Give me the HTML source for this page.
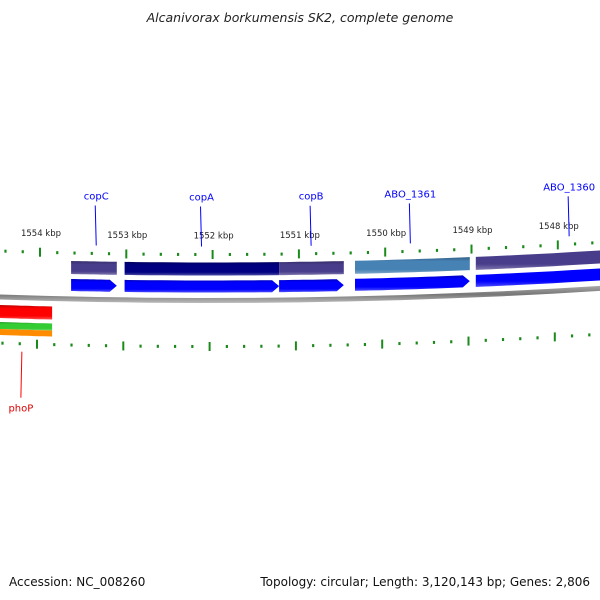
<!DOCTYPE html>
<html><head><meta charset="utf-8"><style>
html,body{margin:0;padding:0;background:#fff;}
svg{display:block;font-family:"DejaVu Sans","Liberation Sans",sans-serif;}
</style></head><body>
<svg id="map" width="600" height="600" viewBox="0 0 600 600">
<defs>
<linearGradient id="gBack" x1="0" y1="0" x2="0" y2="1"><stop offset="0" stop-color="#aaa"/><stop offset="0.5" stop-color="#777"/><stop offset="1" stop-color="#bbb"/></linearGradient>
<linearGradient id="shade" x1="0" y1="0" x2="0" y2="1"><stop offset="0" stop-color="#000" stop-opacity="0.25"/><stop offset="0.25" stop-color="#000" stop-opacity="0"/><stop offset="0.75" stop-color="#fff" stop-opacity="0"/><stop offset="1" stop-color="#fff" stop-opacity="0.3"/></linearGradient>
</defs>
<text x="300" y="22" text-anchor="middle" font-size="12.5" font-style="italic" fill="#222">Alcanivorax borkumensis SK2, complete genome</text>
<g id="layer"></g>
<text x="9" y="586" font-size="12" fill="#111">Accession: NC_008260</text>
<text x="590" y="586" font-size="12" fill="#111" text-anchor="end">Topology: circular; Length: 3,120,143 bp; Genes: 2,806</text>
</svg>
<script>
// data
const majorTicks = [1554, 1553, 1552, 1551, 1550, 1549, 1548];
const tickLabels = ["1554 kbp","1553 kbp","1552 kbp","1551 kbp","1550 kbp","1549 kbp","1548 kbp"];
const geneNames = ["copC","copA","copB","ABO_1361","ABO_1360"];
const geneStarts = [1553.64, 1553.02, 1551.23, 1550.35, 1548.95]; // left edge kbp
const geneEnds   = [1553.11, 1551.23, 1550.48, 1549.02, 1546.80];
const geneColors = ["#483d8b","#000080","#483d8b","#4682b4","#483d8b"];
const labelKbp   = [1553.36, 1552.14, 1550.87, 1549.72, 1547.88];
const revNames = ["phoP"];
const revStarts = [1554.47];
const revEnds = [1553.86];
const revLabelKbp = [1554.21];

// axis functions
const X0 = 40, PX_PER_KBP = 86.3, XC = 210, YTOP = 300.5, R2 = 12600;
function xOf(k){ return X0 + (1554 - k) * PX_PER_KBP; }
function curve(x){ return YTOP - (x - XC) * (x - XC) / R2; }
const svgNS = "http://www.w3.org/2000/svg";
const layer = document.getElementById('layer');
function mk(tag, attrs){ const e = document.createElementNS(svgNS, tag); for (const k in attrs) e.setAttribute(k, attrs[k]); layer.appendChild(e); return e; }
function band(x1, x2, o1, o2, arrow){
  const pts = []; const n = 12;
  const xe = arrow ? x2 - 7 : x2;
  for (let i = 0; i <= n; i++){ const x = x1 + (xe - x1) * i / n; pts.push([x, curve(x) + o1]); }
  if (arrow){ pts.push([x2, curve(x2) + (o1 + o2) / 2]); }
  for (let i = n; i >= 0; i--){ const x = x1 + (xe - x1) * i / n; pts.push([x, curve(x) + o2]); }
  return 'M' + pts.map(p => p[0].toFixed(1) + ',' + p[1].toFixed(1)).join('L') + 'Z';
}

// backbone
let e = mk('path', {d: band(-5, 605, -2.5, 2.5, false), fill: 'url(#gBack)'});



// ticks
for (let k = 1555; k >= 1546.4; k -= 0.2){
  const kk = Math.round(k * 10) / 10;
  const x = xOf(kk); if (x < -2 || x > 602) continue;
  const major = Math.abs(kk - Math.round(kk)) < 0.01;
  const len = major ? 9 : 3;
  const yo = curve(x) - 46, yi = curve(x) + 46;
  e = mk('line', {x1: x, x2: x, y1: yo - len / 2, y2: yo + len / 2, stroke: '#1a8a1a', 'stroke-width': major ? 2 : 2.2});
  
  
  e = mk('line', {x1: x - 3, x2: x - 3, y1: yi - len / 2, y2: yi + len / 2, stroke: '#1a8a1a', 'stroke-width': major ? 2 : 2.2});
  
  
}
majorTicks.forEach((k, i) => {
  const x = xOf(k);
  const t = mk('text', {x: x + 1, y: curve(x) - 62, 'text-anchor': 'middle', 'font-size': 8.5, fill: '#222'});
  t.textContent = tickLabels[i];
  
  
});

// forward genes
geneNames.forEach((n, i) => {
  const x1 = xOf(geneStarts[i]), x2 = xOf(geneEnds[i]);
  let p = mk('path', {d: band(x1, x2, -38, -25, false), fill: geneColors[i]});
  
  
  mk('path', {d: band(x1, x2, -38, -25, false), fill: 'url(#shade)'});
  p = mk('path', {d: band(x1, x2, -20, -8, i < 4), fill: '#0000ff'});
  
  
  mk('path', {d: band(x1, x2, -20, -8, i < 4), fill: 'url(#shade)'});
  const lx = xOf(labelKbp[i]);
  const ln = mk('line', {x1: lx, x2: lx + 1, y1: curve(lx) - 94, y2: curve(lx) - 54, stroke: '#0000ff', 'stroke-width': 1});
  
  
  const t = mk('text', {x: lx + 1, y: curve(lx) - 100, 'text-anchor': 'middle', 'font-size': 10, fill: '#0000ff'});
  t.textContent = n;
  
  
});

// reverse-strand feature rings
revNames.forEach((n, i) => {
  const x1 = xOf(revStarts[i]), x2 = xOf(revEnds[i]);
  let p = mk('path', {d: band(x1, x2, 8, 21, false), fill: '#ff0000'});
  
  
  mk('path', {d: band(x1, x2, 8, 21, false), fill: 'url(#shade)'});
  p = mk('path', {d: band(x1, x2, 25, 32, false), fill: '#33cc33'});
  
  
  mk('path', {d: band(x1, x2, 25, 32, false), fill: 'url(#shade)'});
  p = mk('path', {d: band(x1, x2, 32, 38, false), fill: '#ff8c00'});
  
  
  const lx = xOf(revLabelKbp[i]);
  const ln = mk('line', {x1: lx, x2: lx - 1, y1: curve(lx) + 54, y2: curve(lx) + 100, stroke: '#ff0000', 'stroke-width': 1});
  
  
  const t = mk('text', {x: lx - 1, y: curve(lx) + 114, 'text-anchor': 'middle', 'font-size': 10, fill: '#dd0000'});
  t.textContent = n;
  
  
});
</script>
</body></html>
